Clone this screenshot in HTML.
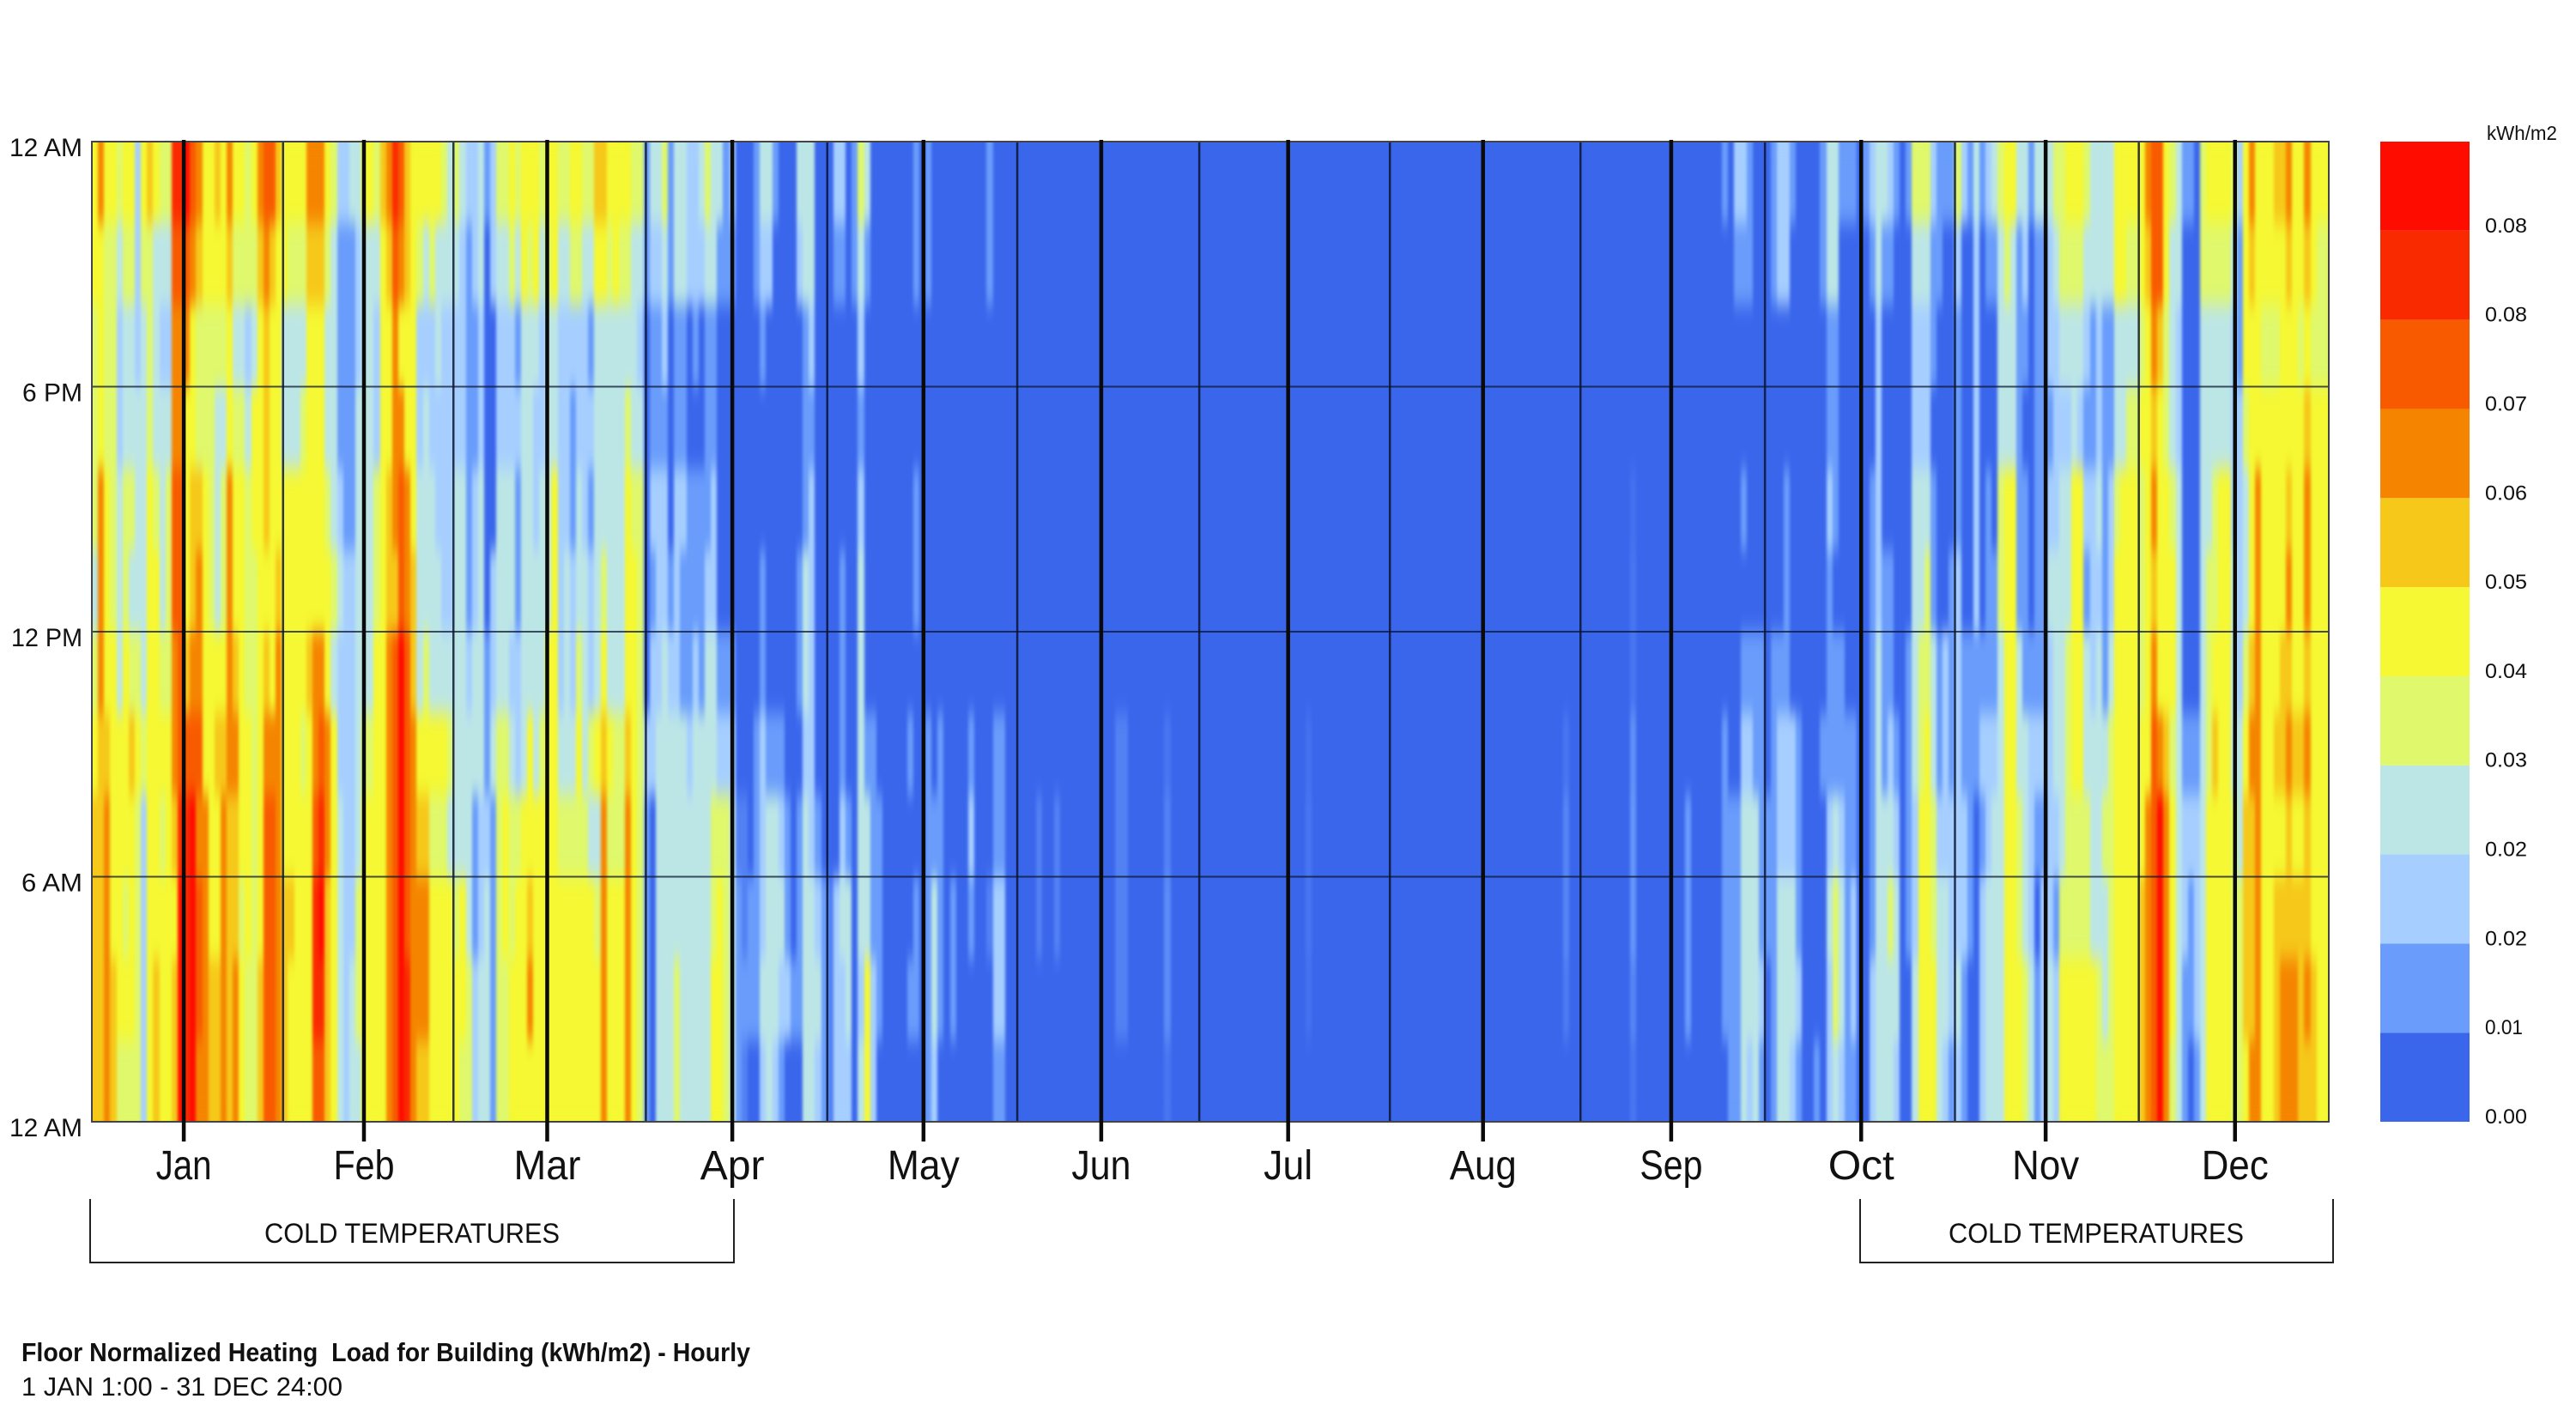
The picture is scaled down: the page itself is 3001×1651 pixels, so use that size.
<!DOCTYPE html>
<html lang="en">
<head>
<meta charset="utf-8">
<title>Floor Normalized Heating Load for Building</title>
<style>
html,body{margin:0;padding:0;background:#fff;}
svg{display:block;}
text{font-family:"Liberation Sans",sans-serif;fill:#111;}
</style>
</head>
<body>
<svg id="chart" xmlns="http://www.w3.org/2000/svg" width="3001" height="1651" viewBox="0 0 3001 1651">
  <defs>
    <filter id="soften" x="-2%" y="-4%" width="104%" height="108%" color-interpolation-filters="sRGB">
      <feGaussianBlur stdDeviation="1.5 12"/>
      <feComponentTransfer><feFuncA type="linear" slope="100"/></feComponentTransfer>
    </filter>
    <clipPath id="plot-clip"><rect x="107" y="165" width="2606" height="1142"/></clipPath>
  </defs>
  <g clip-path="url(#plot-clip)">
    <g id="cells" filter="url(#soften)" shape-rendering="crispEdges"></g>
  </g>
  <g id="legend"></g>
  <g id="grid"></g>
  <g id="axes"></g>
  <text x="2897" y="163" font-size="23" textLength="82" lengthAdjust="spacingAndGlyphs">kWh/m2</text>
  <path d="M105 1397V1471H855V1397" fill="none" stroke="#222" stroke-width="2"/>
  <text x="308" y="1448" font-size="32" textLength="344" lengthAdjust="spacingAndGlyphs">COLD TEMPERATURES</text>
  <path d="M2167 1397V1471H2718V1397" fill="none" stroke="#222" stroke-width="2"/>
  <text x="2270" y="1448" font-size="32" textLength="344" lengthAdjust="spacingAndGlyphs">COLD TEMPERATURES</text>
  <text x="25" y="1586" font-size="31" font-weight="bold" textLength="849" lengthAdjust="spacingAndGlyphs" xml:space="preserve" style="white-space:pre">Floor Normalized Heating  Load for Building (kWh/m2) - Hourly</text>
  <text x="25" y="1626" font-size="31" textLength="374" lengthAdjust="spacingAndGlyphs">1 JAN 1:00 - 31 DEC 24:00</text>
</svg>
<script>
// Month ticks (day of year)
const monthLabels = ['Jan','Feb','Mar','Apr','May','Jun','Jul','Aug','Sep','Oct','Nov','Dec'];
const monthMidDays = [15,44.4,74.3,104.5,135.7,164.7,195.2,227,257.7,288.7,318.8,349.7];
const monthStartDays = [31.2,59,90.4,120,151,180.7,211.8,242.9,273,304,334];
const hourLabels = ['12 AM','6 PM','12 PM','6 AM','12 AM'];
const hourTicks = [24,18,12,6,0];
const legendTicks = ['0.00','0.01','0.02','0.02','0.03','0.04','0.05','0.06','0.07','0.08','0.08'];
const binColors = ['#3a66ec','#699cfb','#a6cfff','#bce6e6','#dff86c','#f5f832','#f6c81a','#f58500','#f85a00','#fa2a00','#ff0c00'];
// Load per day, in legend-bin units; each day lists 2-hour bands from 24:00 at the top down to 0:00
const Z = [0,0,0,0,0,0,0,0,0,0,0,0];
const loadByDay = [
[5,5,4,4,4,3,4,5,6,6,6,6],[7,5,5,5,7,7,7,6,6,6,6,6],[5,4,4,4,5,5,5,6,7,7,7,7],[5,4,4,4,4,4,5,5,5,5,6,6],[4,3,2,2,3,3,3,5,5,5,5,4],
[5,4,3,3,4,4,5,5,5,4,5,4],[5,4,3,3,4,3,4,6,5,5,5,4],[2,2,2,3,3,3,4,5,4,4,4,4],[5,4,3,3,3,3,3,4,2,2,2,2],[6,4,4,4,5,5,5,5,5,5,5,5],
[5,3,3,3,4,5,5,5,5,5,6,6],[4,3,2,3,3,3,4,5,4,5,5,5],[4,3,2,3,4,4,4,5,5,5,5,5],[9,8,7,7,8,8,7,7,6,5,6,6],[9,8,7,7,8,8,8,8,9,10,10,10],
[10,8,7,5,5,5,6,8,9,9,9,9],[8,7,5,5,6,6,7,8,10,10,10,10],[7,6,4,4,6,7,7,8,7,8,8,7],[5,5,4,4,5,5,5,5,7,7,7,7],[5,5,4,4,4,4,5,5,5,5,6,6],
[6,5,4,3,3,3,5,6,5,5,6,6],[5,5,4,3,4,4,5,6,7,7,7,7],[7,6,5,5,7,7,7,7,6,6,6,6],[5,4,3,4,5,5,6,7,6,6,7,7],[5,4,3,4,5,5,5,5,5,4,5,5],
[4,4,2,3,4,4,4,5,5,5,4,4],[5,4,3,5,5,4,4,4,4,4,4,4],[7,6,5,5,5,5,5,5,5,5,6,6],[8,7,6,6,6,5,6,7,8,8,8,8],[8,6,5,5,5,5,5,7,8,8,8,8],
[6,5,5,5,5,6,7,7,7,7,7,7],[5,5,3,3,5,5,5,5,5,6,6,6],[5,4,3,3,5,5,5,5,5,6,5,5],[5,4,3,3,5,5,5,5,5,5,5,5],[5,4,3,4,5,5,5,4,5,5,5,5],
[7,6,5,5,5,5,6,5,5,5,5,5],[7,6,5,5,5,5,7,7,8,9,9,8],[7,6,5,5,5,5,7,8,9,10,9,8],[5,4,3,3,4,5,5,7,7,6,6,6],[4,3,3,3,3,4,3,5,5,5,5,5],
[2,1,1,1,2,3,2,2,3,3,3,3],[2,1,1,1,1,2,2,2,2,2,2,2],[3,1,1,1,1,2,2,2,2,2,3,3],[3,2,2,3,3,3,3,3,3,4,4,3],[5,3,3,3,3,3,3,4,5,5,5,5],
[5,3,3,3,3,3,3,4,5,5,5,5],[4,3,2,2,4,4,5,5,5,5,5,5],[6,5,5,5,5,5,5,5,5,5,5,5],[7,6,5,5,6,6,7,7,7,7,7,7],[9,8,7,7,7,6,8,8,8,8,8,8],
[8,7,5,7,8,8,10,10,10,10,10,10],[6,6,5,5,7,7,8,8,8,8,9,9],[5,5,5,5,5,6,6,7,7,7,7,7],[5,4,2,2,3,3,3,5,6,7,7,6],[5,3,2,3,3,3,4,5,6,7,7,6],
[5,4,2,2,3,3,3,5,4,5,5,5],[5,3,3,2,2,3,3,5,4,5,5,5],[4,3,2,2,2,2,3,5,4,5,5,5],[3,3,2,2,2,2,3,4,3,5,5,5],[4,3,2,2,3,3,3,3,3,4,5,5],
[3,2,2,2,3,3,3,3,3,5,5,4],[2,1,1,1,1,1,2,3,3,3,4,4],[2,2,1,1,2,2,3,3,1,1,2,2],[3,3,2,2,3,3,3,3,2,2,3,3],[1,0,0,0,0,0,1,1,2,3,3,3],
[2,2,0,0,0,2,2,3,1,1,1,1],[4,3,2,2,3,3,3,4,4,4,4,4],[4,3,2,2,3,3,3,4,5,5,4,4],[5,4,2,2,3,3,2,3,4,4,5,5],[4,3,1,2,1,1,2,2,4,5,5,5],
[5,5,3,3,3,3,3,3,5,5,5,5],[5,4,3,3,3,3,3,5,5,6,7,5],[5,5,3,2,2,3,3,3,5,5,5,5],[4,3,2,2,3,3,3,4,5,5,5,5],[5,4,3,3,3,3,5,5,5,5,5,5],
[5,5,3,3,5,5,5,5,5,5,5,5],[4,3,2,2,2,2,2,3,4,5,5,5],[4,3,2,2,2,3,3,3,4,5,5,5],[5,4,2,1,1,2,2,3,4,5,5,5],[5,4,2,2,3,3,4,5,4,5,5,5],
[4,3,2,2,2,3,3,3,4,5,5,5],[4,3,1,2,1,2,2,4,3,5,5,5],[6,5,3,3,3,3,3,5,3,4,5,5],[6,5,3,3,3,4,5,6,7,7,7,7],[5,4,3,3,3,3,3,5,4,5,5,5],
[5,5,3,3,3,3,3,4,4,5,5,5],[5,4,3,3,3,3,3,4,4,5,5,5],[5,4,3,4,5,5,5,6,7,7,7,7],[4,3,3,3,4,5,5,5,5,5,5,5],[4,3,2,3,4,4,4,4,4,4,4,4],
[1,1,0,0,0,0,0,2,1,1,1,1],[3,2,1,1,2,1,2,2,0,0,0,0],[3,2,1,1,2,2,2,3,3,3,3,3],[4,3,2,1,2,2,3,3,3,3,3,3],[1,1,0,0,0,1,2,3,3,3,3,3],
[3,3,1,1,2,2,2,3,3,3,4,4],[3,3,1,1,2,1,1,3,3,3,3,3],[2,2,0,0,1,1,1,2,3,3,3,3],[2,2,1,0,1,1,2,3,3,3,3,3],[3,2,0,0,1,1,1,3,3,3,3,3],
[4,3,1,1,1,2,3,3,3,3,3,3],[3,3,1,1,2,2,3,3,4,4,5,5],[3,1,0,0,0,0,1,2,4,5,5,5],[1,1,0,0,0,0,1,2,4,4,4,4],[2,1,0,0,0,0,1,2,3,3,3,3],
[0,0,0,0,0,0,0,0,.5,1,1,1],[0,0,0,0,0,0,0,0,.5,.5,1,.5],[0,0,0,0,0,0,0,0,0,1,1,0],[1,1,0,0,0,0,0,1,1,1,1,0],[3,2,1,0,0,1,1,2,2,2,3,2],
[3,2,0,0,0,0,0,1,3,3,3,3],[1,0,0,0,0,0,0,1,3,3,3,2],[0,0,0,0,0,0,0,1,2,3,2,1],[0,0,0,0,0,0,0,0,1,1,2,0],[0,0,0,0,0,0,0,0,0,0,1,0],
[3,2,0,0,0,1,1,0,1,1,1,0],[3,3,1,1,1,3,3,2,3,3,3,3],[3,3,2,1,2,2,2,2,2,3,3,3],[0,0,0,0,0,0,0,0,1,2,3,2],[0,0,0,0,0,0,0,0,0,1,1,1],
[0,0,0,0,0,0,0,0,0,.5,.5,.5],[2,1,0,0,0,0,0,0,0,2,2,2],[2,1,0,0,0,1,1,1,2,3,2,2],[0,0,0,0,0,0,0,0,1,3,3,2],[1,1,0,0,0,0,0,0,0,0,0,0],
[4,3,2,1,2,3,3,3,3,3,2,3],[3,1,0,0,0,0,0,1,3,3,5,5],[0,0,0,0,0,0,0,1,1,1,2,2],[0,0,0,0,0,0,0,0,1,1,1,0],Z,
Z,Z,Z,[0,0,0,0,0,0,0,1,0,0,1,0],[1,1,0,0,1,1,0,0,0,1,1,0],Z,[1,1,0,0,0,0,0,1,1,1,1,1],[0,0,0,0,0,0,0,0,1,3,3,2],[0,0,0,0,0,0,0,1,1,1,1,0],Z,
[0,0,0,0,0,0,0,0,0,1,1,0],Z,Z,[0,0,0,0,0,0,0,1,2,1,0,0],Z,Z,[1,1,0,0,0,0,0,0,0,.5,0,0],[0,0,0,0,0,0,0,1,1,2,2,1],[0,0,0,0,0,0,0,1,1,2,2,1],Z,
Z,Z,Z,Z,[0,0,0,0,0,0,0,0,.5,.5,0,0],Z,Z,[0,0,0,0,0,0,0,0,.5,.5,0,0],Z,Z,
Z,Z,Z,Z,Z,Z,Z,[0,0,0,0,0,0,0,.5,.5,.5,.5,0],[0,0,0,0,0,0,0,.5,.5,.5,.5,0],Z,
Z,Z,Z,Z,Z,[0,0,0,0,0,0,0,.3,.5,.7,.7,.3],Z,Z,Z,Z,
Z,Z,Z,Z,Z,Z,Z,Z,Z,Z,
Z,Z,Z,Z,Z,Z,Z,Z,[0,0,0,0,0,0,0,.2,.3,.3,.2,0],Z,
Z,Z,Z,Z,Z,Z,Z,Z,Z,Z,
Z,Z,Z,Z,Z,Z,Z,Z,Z,Z,
Z,Z,Z,Z,Z,Z,Z,Z,Z,Z,
Z,Z,Z,Z,Z,Z,Z,Z,Z,Z,
[0,0,0,0,0,0,0,.3,.6,.6,.4,0],Z,Z,Z,Z,Z,Z,Z,Z,Z,
Z,[0,0,0,0,.2,.3,.3,.8,.9,.9,.6,.3],Z,Z,Z,Z,Z,Z,Z,Z,
[0,0,0,0,0,0,0,0,1,1,1,0],Z,Z,Z,Z,Z,[1,0,0,0,0,0,0,1,1,1,1,0],[0,0,0,0,0,0,0,0,1,1,1,1],[2,1,0,0,0,0,0,0,1,1,1,1],[2,1,0,0,1,0,1,2,3,3,3,3],
[1,1,0,0,0,0,1,2,3,3,3,2],[0,0,0,0,0,0,1,1,3,3,3,3],[0,0,0,0,0,0,1,1,1,1,2,1],[0,0,0,0,0,0,0,0,1,1,0,0],[1,1,0,0,0,0,1,1,1,1,1,1],[2,2,0,0,0,0,1,2,2,3,3,3],[2,2,0,0,1,1,1,2,2,3,3,3],[1,0,0,0,0,0,0,2,2,3,3,2],[0,0,0,0,0,0,0,1,1,1,2,1],Z,
Z,[0,0,0,0,0,0,0,0,0,0,0,1],[1,1,0,0,0,0,0,1,0,0,0,0],[3,3,1,1,2,1,1,1,2,3,2,2],[3,3,1,1,1,0,1,1,3,4,4,3],[1,0,0,0,0,0,1,1,2,3,3,2],[1,0,0,0,0,0,0,1,1,1,1,1],[1,0,0,0,0,0,0,1,1,2,2,1],Z,[1,0,0,0,0,0,0,0,0,0,0,0],
[2,1,0,0,1,1,1,1,1,1,2,2],[3,3,2,2,2,2,3,3,3,3,3,3],[3,1,0,0,0,1,1,1,3,3,3,3],[2,1,0,0,0,1,1,2,3,4,3,3],[1,0,0,0,0,0,0,1,2,3,3,2],Z,[1,0,0,0,0,0,1,1,1,1,0,0],[4,3,2,2,3,3,3,3,2,2,3,3],[4,3,2,2,3,3,4,4,5,5,5,5],[4,3,2,2,3,4,4,5,5,5,5,5],
[2,1,1,0,1,1,3,3,4,4,5,5],[1,1,0,0,0,0,1,1,2,3,3,3],[1,0,0,0,0,0,2,2,2,3,3,2],[1,0,0,0,0,1,1,1,2,2,2,1],[4,2,1,1,1,2,2,2,2,2,3,2],[2,0,0,0,0,0,1,1,2,2,1,1],[1,0,0,0,0,0,1,1,1,1,0,0],[3,2,2,2,2,2,1,1,0,0,0,0],[1,0,0,0,0,0,1,2,1,2,2,2],[2,1,0,0,1,1,1,2,2,3,3,3],
[3,1,0,0,0,1,1,2,3,3,3,3],[4,3,3,3,4,4,3,3,3,3,3,3],[5,4,3,3,5,5,5,5,5,5,5,5],[5,3,3,3,5,5,5,5,5,5,5,5],[3,1,1,1,1,1,3,3,4,4,5,5],[3,2,1,0,1,1,1,3,3,3,4,4],[1,0,0,0,0,0,1,2,2,2,3,3],[3,1,1,1,1,1,1,2,1,0,1,1],[3,1,1,1,1,1,1,2,1,2,2,2],[3,2,2,1,2,3,2,2,2,2,3,3],
[4,3,2,2,2,3,3,3,2,1,2,2],[4,4,3,2,3,3,3,3,3,4,5,5],[5,4,3,2,3,3,4,4,4,4,5,5],[5,4,3,3,5,5,5,5,4,4,5,5],[5,4,3,2,5,5,5,5,4,4,5,5],[4,3,2,1,2,1,3,3,4,4,5,5],[3,3,1,1,2,2,2,3,3,3,5,5],[3,3,2,2,3,2,3,3,3,3,4,4],[3,3,1,1,1,1,1,3,4,3,3,4],[3,3,1,1,2,2,3,4,4,4,4,4],
[5,5,3,3,4,5,5,5,5,5,5,5],[5,5,3,3,5,5,5,5,5,5,5,5],[5,4,3,4,5,5,5,5,5,5,5,5],[5,4,3,4,5,5,5,5,5,5,5,5],[5,5,4,5,4,4,4,5,5,6,6,6],[7,6,5,5,5,5,5,5,7,7,7,7],[8,8,7,6,7,6,7,8,8,8,8,8],[8,8,6,5,5,5,5,7,10,10,10,10],[5,5,4,4,5,5,5,6,7,7,7,7],[4,3,3,3,4,5,5,4,5,5,5,4],
[3,3,2,2,3,3,3,3,3,3,3,3],[1,0,0,0,0,0,0,1,2,2,1,1],[1,0,0,0,0,0,0,1,2,1,1,0],[0,0,0,0,0,0,0,1,2,2,2,1],[4,4,3,3,3,3,3,3,3,3,3,3],[5,4,3,3,3,4,4,4,5,5,5,5],[5,4,3,3,4,4,5,6,5,5,5,5],[5,4,3,3,5,5,5,5,5,5,5,5],[5,4,3,3,5,5,5,5,5,5,5,5],[4,3,2,2,2,3,3,3,4,4,4,4],
[2,1,1,2,2,2,2,3,3,4,4,4],[5,5,5,4,3,3,4,5,6,6,6,5],[7,6,5,5,5,5,6,7,6,6,6,7],[5,5,5,5,7,7,7,7,7,7,7,7],[5,5,4,5,5,5,5,5,5,5,5,5],[5,5,4,5,5,5,5,5,5,5,5,5],[6,5,4,5,5,5,5,6,5,6,6,6],[6,5,5,5,5,5,6,6,5,6,7,7],[7,6,5,5,6,7,6,7,6,6,7,7],[5,5,5,5,5,5,5,6,5,6,7,7],
[5,5,4,5,5,5,5,6,5,6,6,6],[7,6,5,6,7,7,6,7,6,6,7,6],[5,5,4,5,5,5,5,5,5,5,6,6],[5,4,4,5,5,5,5,5,5,5,5,5],[5,4,4,5,5,5,5,5,5,5,5,5]
];

const NS = 'http://www.w3.org/2000/svg';
const plot = {left:107, right:2713, top:165, bottom:1307};
const legendBox = {left:2773, right:2877};
const daysInYear = 365;
const hoursInDay = 24;
const hoursPerBand = 2;

function xScale(day){ return plot.left + (plot.right - plot.left) * day / daysInYear; }
function yScale(hour){ return plot.bottom - (plot.bottom - plot.top) * hour / hoursInDay; }
function legendY(level){ return plot.bottom - (plot.bottom - plot.top) * level / binColors.length; }
function hexToRgb(h){ return [1,3,5].map(function(i){ return parseInt(h.substr(i,2),16); }); }
function colorFor(level){
  const lo = Math.max(0, Math.min(binColors.length - 1, Math.floor(level)));
  const hi = Math.min(binColors.length - 1, lo + 1);
  const t = Math.max(0, Math.min(1, level - lo));
  const a = hexToRgb(binColors[lo]);
  const b = hexToRgb(binColors[hi]);
  return 'rgb(' + a.map(function(v,i){ return Math.round(v + (b[i]-v)*t); }).join(',') + ')';
}
function make(tag, attrs, parent, txt){
  const el = document.createElementNS(NS, tag);
  Object.keys(attrs).forEach(function(k){ el.setAttribute(k, attrs[k]); });
  if (txt !== undefined) el.textContent = txt;
  parent.appendChild(el);
  return el;
}

const cellsG = document.getElementById('cells');
const legendG = document.getElementById('legend');
const gridG = document.getElementById('grid');
const axesG = document.getElementById('axes');

// Heatmap cells
loadByDay.forEach(function(bands, day){
  bands.forEach(function(level, b){
    const y0 = yScale(hoursInDay - b * hoursPerBand);
    const y1 = yScale(hoursInDay - (b + 1) * hoursPerBand);
    const x0 = Math.round(xScale(day));
    const x1 = Math.round(xScale(day + 1));
    const cell = make('rect', {x:x0, y:Math.round(y0), width:x1-x0, height:Math.round(y1)-Math.round(y0), fill:colorFor(level)}, cellsG);
    
    
  });
});

// Legend bins and labels
binColors.forEach(function(color, level){
  const bin = make('rect', {x:legendBox.left, y:legendY(level+1), width:legendBox.right-legendBox.left, height:legendY(level)-legendY(level+1), fill:color}, legendG);
  
  
  const tick = make('text', {x:2895, y:legendY(level)+2, 'font-size':24, textLength:legendTicks[level] === '0.01' ? 44 : 49, lengthAdjust:'spacingAndGlyphs'}, legendG, legendTicks[level]);
  
  
});

// Month-start thin lines
monthStartDays.forEach(function(day){
  const x = xScale(day);
  const line = make('line', {x1:x, x2:x, y1:plot.top, y2:plot.bottom, stroke:'#0c1530', 'stroke-width':2.5, 'stroke-opacity':0.85}, gridG);
  
  
});

// Hour grid lines
hourTicks.slice(1,-1).forEach(function(hour){
  const y = yScale(hour);
  const line = make('line', {x1:plot.left, x2:plot.right, y1:y, y2:y, stroke:'#0c1530', 'stroke-width':2, 'stroke-opacity':0.75}, gridG);
  
  
});

// Plot frame
const frame = make('rect', {x:plot.left, y:plot.top, width:plot.right-plot.left, height:plot.bottom-plot.top, fill:'none', stroke:'#444', 'stroke-width':2}, gridG);



// Mid-month thick lines with ticks and labels
const monthLabelWidths = [65,71,78,75,84,69,57,78,73,77,78,78];
monthMidDays.forEach(function(day, i){
  const x = xScale(day);
  const line = make('line', {x1:x, x2:x, y1:plot.top-2, y2:1330, stroke:'#0a0a0a', 'stroke-width':4.5}, gridG);
  
  
  const label = make('text', {x:x, y:1374, 'font-size':48, 'text-anchor':'middle', textLength:monthLabelWidths[i], lengthAdjust:'spacingAndGlyphs'}, axesG, monthLabels[i]);
  
  
});

// Hour labels
const hourLabelWidths = [85,70,83,71,85];
hourLabels.forEach(function(text, i){
  const label = make('text', {x:96, y:yScale(hourTicks[i])+17, 'font-size':30, 'text-anchor':'end', textLength:hourLabelWidths[i], lengthAdjust:'spacingAndGlyphs'}, axesG, text);
  
  
});
</script>
</body>
</html>
